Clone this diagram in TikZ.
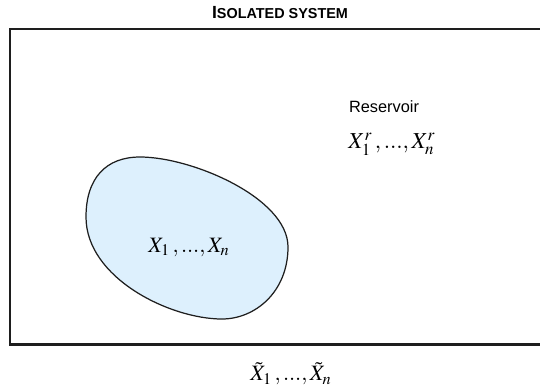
\documentclass[tikz,border=0pt]{standalone}
\usepackage{amsmath}
\usepackage{mathptmx}
\usepackage{fontspec}
\setsansfont{Liberation Sans}
\usepackage{tikz}
\usetikzlibrary{positioning}
\definecolor{blobc}{RGB}{221,240,253}
\definecolor{framec}{RGB}{30,30,30}

\begin{document}
\begin{tikzpicture}[x=0.02cm,y=-0.02cm]
			\useasboundingbox (0,0) rectangle (540,389);
			% the isolated system (runs off the right edge)
			\draw[framec,line width=1.7pt] (560,29) -- (10,29) -- (10,344) -- (560,344);
			% the subsystem
			\filldraw[fill=blobc,draw=framec,line width=0.7pt] (86,217)
				.. controls (86,178) and (106,157) .. (140,157)
				.. controls (192,157) and (288,198) .. (288,247)
				.. controls (288,292) and (255,319) .. (222,319)
				.. controls (170,319) and (86,278) .. (86,217) -- cycle;
			% labels
			\node[font=\sffamily\bfseries] (title) at (280,13) {{\fontsize{10}{11}\selectfont I}{\fontsize{8.2}{10}\selectfont SOLATED SYSTEM}};
			\node[font=\sffamily\fontsize{9.3}{11}\selectfont] (reservoir) at (384,107) {Reservoir};
			\node[font=\fontsize{13}{15}\selectfont] (resvars) at (392,144) {$X_1^r\,,...,X_n^r$};
			\node[font=\fontsize{12.5}{14}\selectfont] (sysvars) at (189,247) {$X_1\,,...,X_n$};
			\node[font=\fontsize{12.5}{14}\selectfont] (totvars) at (291,374) {$\tilde{X}_1\,,...,\tilde{X}_n$};
		\end{tikzpicture}
\end{document}
